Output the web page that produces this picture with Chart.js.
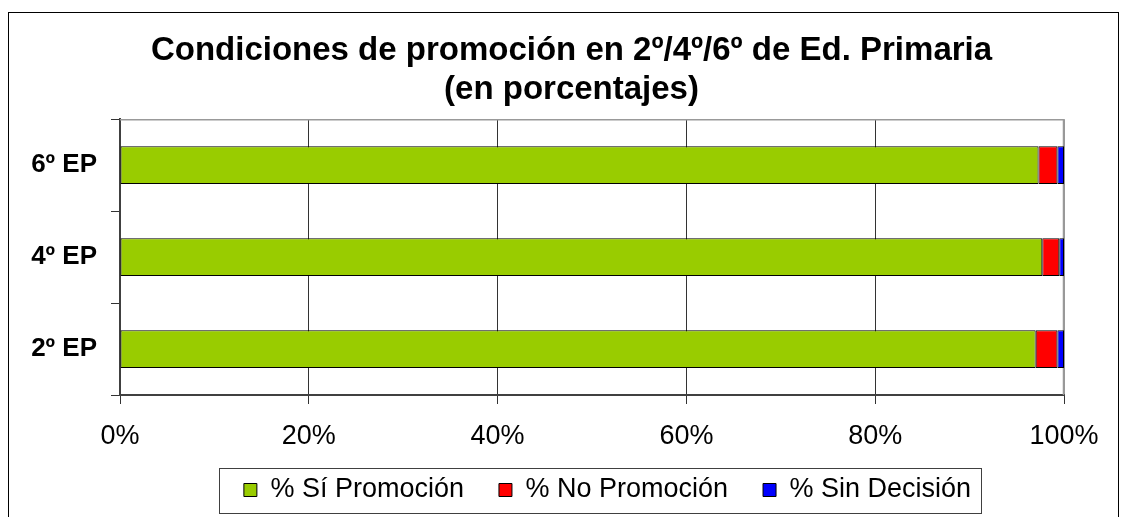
<!DOCTYPE html>
<html>
<head>
<meta charset="utf-8">
<script src="https://cdn.jsdelivr.net/npm/chart.js@4"></script>
<style>
  body { margin: 0; background: #fff; }
</style>
</head>
<body>
<canvas id="promoChart" width="1127" height="517"></canvas>
<script>
// Datos del gráfico
const categories = ['6º EP', '4º EP', '2º EP'];
const seriesNames = ['% Sí Promoción', '% No Promoción', '% Sin Decisión'];
const siPromocion = [97.3, 97.7, 97.0];
const noPromocion = [2.0, 1.8, 2.3];
const sinDecision = [0.7, 0.5, 0.7];
const titleLines = ['Condiciones de promoción en 2º/4º/6º de Ed. Primaria', '(en porcentajes)'];

const FONT = '"Liberation Sans", Arial, sans-serif';

// Marco exterior, borde del área de trazado y caja de la leyenda
const framePlugin = {
    id: 'framePlugin',
    afterLayout: function (chart) {
        // el título y la leyenda del original están centrados más a la derecha
        chart.titleBlock.left += 39.5;
        chart.titleBlock.right += 39.5;
        chart.legend.left += 75.5;
        chart.legend.right += 75.5;
        chart.legend.top = 441.5;
        chart.legend.bottom = 517;
    },
    beforeDraw: function (chart) {
        const c = chart.ctx;
        c.save();
        c.fillStyle = '#fff';
        c.fillRect(0, 0, chart.width, chart.height);
        c.strokeStyle = '#000';
        c.lineWidth = 1;
        c.strokeRect(8.5, 12.5, 1110, 600);
        c.restore();
    },
    beforeDatasetsDraw: function (chart) {
        const a = chart.chartArea;
        const c = chart.ctx;
        c.save();
        c.strokeStyle = '#999';
        c.lineWidth = 1.5;
        c.beginPath();
        c.moveTo(a.left, a.top + 0.5);
        c.lineTo(a.right - 0.5, a.top + 0.5);
        c.lineTo(a.right - 0.5, a.bottom);
        c.stroke();
        c.restore();
    },
    afterDraw: function (chart) {
        const boxes = chart.legend.legendHitBoxes;
        if (!boxes || !boxes.length) return;
        const first = boxes[0];
        const last = boxes[boxes.length - 1];
        const c = chart.ctx;
        c.save();
        c.strokeStyle = '#404040';
        c.lineWidth = 1;
        const top = first.top + first.height / 2 - 22;
        c.strokeRect(Math.round(first.left - 25) + 0.5, Math.round(top) + 0.5,
            Math.round(last.left + last.width + 10 - first.left + 25), 45);
        c.restore();
    }
};

const ctx = document.getElementById('promoChart').getContext('2d');
const promoChart = new Chart(ctx, {
    type: 'bar',
    data: {
        labels: categories,
        datasets: [
            {
                label: seriesNames[0],
                data: siPromocion,
                backgroundColor: '#99CC00',
                borderColor: '#000',
                borderWidth: 1,
                borderSkipped: false
            },
            {
                label: seriesNames[1],
                data: noPromocion,
                backgroundColor: '#FF0000',
                borderColor: '#000',
                borderWidth: 1,
                borderSkipped: false
            },
            {
                label: seriesNames[2],
                data: sinDecision,
                backgroundColor: '#0000FF',
                borderColor: '#000',
                borderWidth: 1,
                borderSkipped: false
            }
        ]
    },
    options: {
        responsive: false,
        animation: false,
        indexAxis: 'y',
        layout: {
            padding: { left: 0, right: 63, top: 0, bottom: 20 }
        },
        datasets: {
            bar: { categoryPercentage: 1, barPercentage: 0.41 }
        },
        plugins: {
            title: {
                display: true,
                text: titleLines,
                color: '#000',
                font: { family: FONT, size: 33, weight: 'bold', lineHeight: 1.2 },
                padding: { top: 31, bottom: 9 }
            },
            legend: {
                position: 'bottom',
                maxHeight: 45,
                labels: {
                    color: '#000',
                    font: { family: FONT, size: 27 },
                    boxWidth: 13,
                    boxHeight: 13,
                    padding: 35
                }
            },
            tooltip: { enabled: false }
        },
        scales: {
            x: {
                stacked: true,
                min: 0,
                max: 100,
                ticks: {
                    stepSize: 20,
                    color: '#000',
                    padding: 16,
                    font: { family: FONT, size: 27 },
                    callback: function (v) { return v + '%'; }
                },
                grid: {
                    color: function (c) { return c.tick && c.tick.value === 100 ? '#999' : '#333'; },
                    tickColor: '#333',
                    tickLength: 9
                },
                border: { color: '#404040', width: 2 },
                afterFit: function (scale) { scale.height = 57; }
            },
            y: {
                stacked: true,
                ticks: {
                    color: '#000',
                    padding: 14,
                    font: { family: FONT, size: 26, weight: 'bold' }
                },
                grid: {
                    drawOnChartArea: false,
                    offset: true,
                    tickColor: '#333',
                    tickLength: 9
                },
                border: { color: '#404040', width: 2 },
                afterFit: function (scale) { scale.width = 120; }
            }
        }
    },
    plugins: [framePlugin]
});
</script>
</body>
</html>
